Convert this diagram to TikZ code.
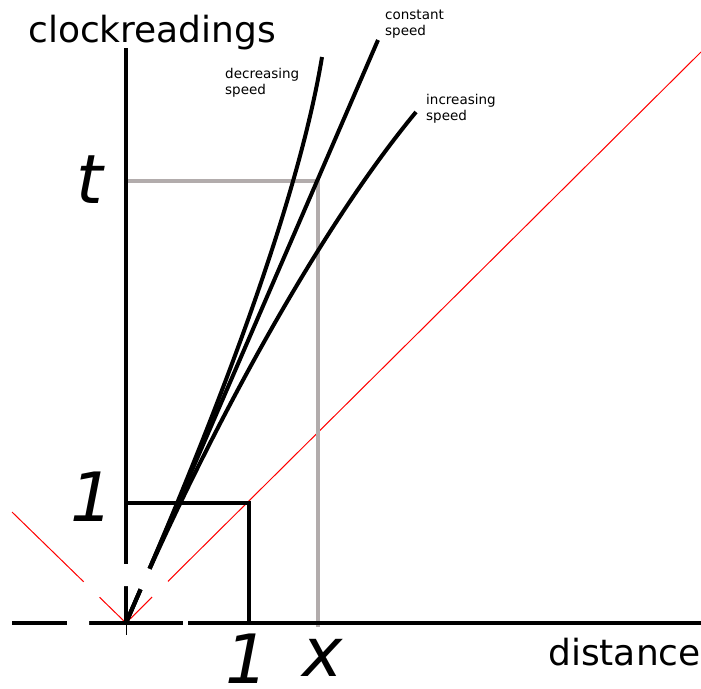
\documentclass[tikz,border=0pt]{standalone}
\usepackage{fontspec}
\setmainfont{DejaVu Sans}
\definecolor{guidegray}{RGB}{178,172,172}
\tikzset{
  axis/.style={line width=4pt},
  motion/.style={line width=4pt},
  guide/.style={guidegray,line width=3.5pt},
  lightline/.style={red,line width=1pt},
  biglabel/.style={inner sep=0pt,font=\fontsize{68}{76}\selectfont\itshape},
  axislabel/.style={inner sep=0pt,anchor=base west,font=\fontsize{36}{40}\selectfont},
  speedlabel/.style={inner sep=0pt,anchor=north west,align=left,font=\fontsize{13.5}{16}\selectfont},
}
\begin{document}
\begin{tikzpicture}[x=1pt,y=-1pt]
\useasboundingbox (0,0) rectangle (701,688);
% key points
\coordinate (O) at (126,623);
\coordinate (ytop) at (126,48);
\coordinate (yt) at (126,181);
\coordinate (y1) at (126,503);
\coordinate (xt) at (318,181);
\coordinate (xb) at (318,627);
\coordinate (c1) at (249,503);
\coordinate (x1) at (249,623);
\coordinate (lend) at (12,512);
\coordinate (rend) at (701,52);
\coordinate (decend) at (322,57);
\coordinate (conend) at (378,40);
\coordinate (incend) at (416,112);
% light
\draw[lightline] (lend) -- (O) -- (rend);
% guides
\draw[guide] (yt) -- (xt) -- (xb);
\draw[axis,line width=3.5pt] (y1) -- (c1) -- (x1);
% axes
\draw[axis] (ytop) -- (O);
\draw[line width=1pt] (O) -- (126,635);
\draw[axis] (12,623) -- (183,623);
\draw[axis] (188,623) -- (701,623);
% world lines
\draw[motion] (O) .. controls (229,388) and (300,190) .. (decend);
\draw[motion] (O) -- (conend);
\draw[motion] (O) .. controls (195,460) and (310,240) .. (incend);
% blank ring round the origin
\draw[white,line width=22pt] (O) ++(-35:48) arc[start angle=-35,end angle=-190,radius=48];
% labels
\node[axislabel] (clk) at (28,42) {clockreadings};
\node[axislabel] (dist) at (548,665) {distance};
\node[biglabel] (tlab) at (90,180) {t};
\node[biglabel] (onet) at (92,497) {1};
\node[biglabel] (onex) at (247,659) {1};
\node[biglabel] (xlab) at (323,658) {x};
\node[speedlabel] (dec) at (225,68) {decreasing\\speed};
\node[speedlabel] (con) at (385,10) {constant\\speed};
\node[speedlabel] (inc) at (426,94) {increasing\\speed};
\end{tikzpicture}
\end{document}
